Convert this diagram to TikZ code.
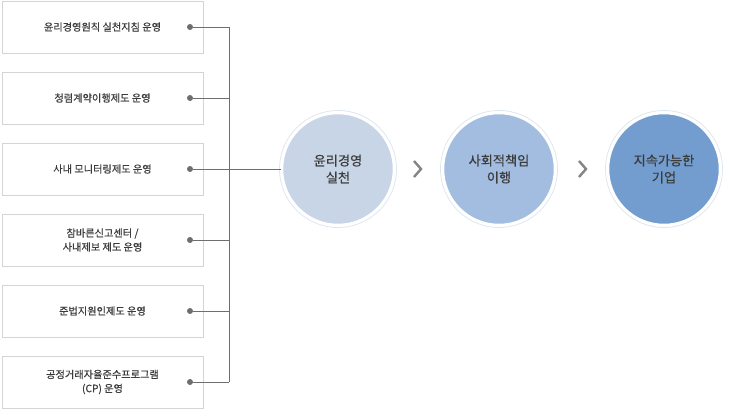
\documentclass[tikz,border=0pt]{standalone}
\usepackage{fontspec}
\setmainfont{Noto Sans CJK KR}[FakeBold=0.6]
\definecolor{boxline}{HTML}{D4D4D4}
\definecolor{txtgray}{HTML}{3C3C3C}
\definecolor{linegray}{HTML}{6E6E6E}
\definecolor{cirA}{HTML}{C8D5E6}
\definecolor{cirB}{HTML}{A3BDE0}
\definecolor{cirC}{HTML}{739DCE}
\begin{document}
\begin{tikzpicture}[x=1pt,y=-1pt]
    \tikzstyle{itembox} = [draw=boxline,line width=1pt,minimum width=201pt,minimum height=52pt,
                           inner sep=0pt,font=\fontsize{10.2}{14}\selectfont,text=txtgray,align=center]
    \tikzstyle{dot} = [circle,fill=linegray,inner sep=0pt,minimum size=6pt]
    \tikzstyle{goal} = [circle,draw=white,line width=2.5pt,minimum size=112pt,inner sep=0pt,
                        font=\fontsize{13.2}{17}\selectfont,text=txtgray,align=center]
    \tikzstyle{ring} = [circle,draw=cirA!60,line width=0.8pt,minimum size=117pt,inner sep=0pt]
    \tikzstyle{chev} = [draw=linegray!85,line width=2.4pt]
    \useasboundingbox (0,0) rectangle (750,410);
    % left column of items
    \node[itembox] (b1) at (102.5,27) {윤리경영원칙 실천지침 운영};
    \node[itembox] (b2) at (102.5,98) {청렴계약이행제도 운영};
    \node[itembox] (b3) at (102.5,169) {사내 모니터링제도 운영};
    \node[itembox] (b4) at (102.5,240) {참바른신고센터 /\\사내제보 제도 운영};
    \node[itembox] (b5) at (102.5,311) {준법지원인제도 운영};
    \node[itembox] (b6) at (102.5,382) {공정거래자율준수프로그램\\(CP) 운영};
    \foreach \i/\y in {1/27,2/98,3/169,4/240,5/311,6/382}
        \node[dot] (d\i) at (190,\y) {};
    \coordinate (t1) at (229,27);
    \coordinate (t6) at (229,382);
    \draw[linegray] (t1) -- (t6);
    \foreach \i/\y in {1/27,2/98,4/240,5/311,6/382}
        \draw[linegray] (d\i) -- (229,\y);
    % goal circles
    \node[ring] at (338,169) {};
    \node[ring] at (499,169) {};
    \node[ring] at (664,169) {};
    \node[goal,fill=cirA] (g1) at (338,169) {윤리경영\\실천};
    \node[goal,fill=cirB] (g2) at (499,169) {사회적책임\\이행};
    \node[goal,fill=cirC] (g3) at (664,169) {지속가능한\\기업};
    \draw[linegray] (d3) -- (g1.west);
    \draw[chev] (414,161) -- (421,169) -- (414,177);
    \draw[chev] (579,161) -- (586,169) -- (579,177);
\end{tikzpicture}
\end{document}
